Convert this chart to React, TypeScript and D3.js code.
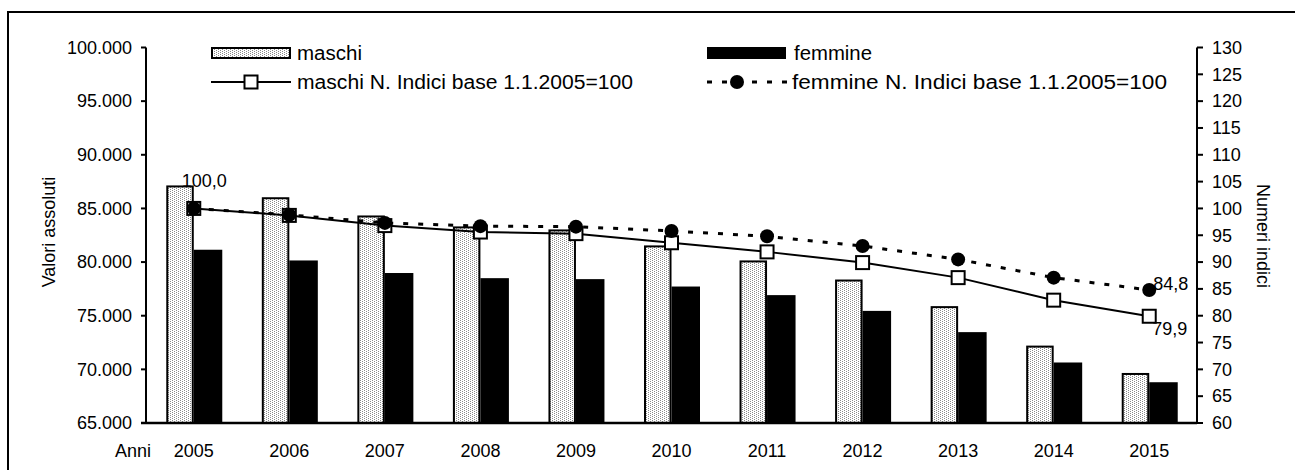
import React from 'react';
import * as d3 from 'd3';

const years = ['2005', '2006', '2007', '2008', '2009', '2010', '2011', '2012', '2013', '2014', '2015'];
const maschi = [87050, 85950, 84250, 83230, 82950, 81460, 80060, 78280, 75800, 72120, 69570];
const femmine = [81150, 80150, 78980, 78500, 78410, 77720, 76920, 75450, 73470, 70640, 68800];
const maschiIdx = [100, 98.7, 96.8, 95.6, 95.3, 93.6, 91.9, 89.9, 87.1, 82.9, 79.9];
const femmineIdx = [100, 98.8, 97.3, 96.7, 96.6, 95.8, 94.8, 93.0, 90.5, 87.1, 84.8];
const leftTicks = [65000, 70000, 75000, 80000, 85000, 90000, 95000, 100000];
const rightTicks = [60, 65, 70, 75, 80, 85, 90, 95, 100, 105, 110, 115, 120, 125, 130];
const legendLabels = ['maschi', 'femmine', 'maschi N. Indici base 1.1.2005=100', 'femmine N. Indici base 1.1.2005=100'];

const it = d3.formatLocale({ decimal: ',', thousands: '.', grouping: [3], currency: ['', '€'] });
const fmtThousands = it.format(',');
const fmtIdx = it.format('.1f');

const FONT = 'Liberation Sans, Arial, sans-serif';

export default function App() {
  const W = 1295, H = 470;
  const left = 146, right = 1197, top = 47.5, bottom = 423;
  const x = d3.scaleBand<string>().domain(years).range([left, right]).paddingInner(0).paddingOuter(0);
  const bw = x.bandwidth();
  const cx = (i: number) => (x(years[i]) as number) + bw / 2;
  const yL = d3.scaleLinear().domain([65000, 100000]).range([bottom, top]);
  const yR = d3.scaleLinear().domain([60, 130]).range([bottom, top]);
  const barW = 27.5;

  const line = d3.line<number>().x((_, i) => cx(i)).y((d) => yR(d));

  const sq = 13;
  const fs = 18;

  return (
    <svg width={W} height={H} style={{ position: 'absolute', left: 0, top: 0, background: '#fff' }} fontFamily={FONT}>
      <defs>
        <pattern id="dots" width="4" height="2" patternUnits="userSpaceOnUse">
          <rect width="4" height="2" fill="#fff" />
          <rect x="0" y="0" width="1" height="1" fill="#8a8a8a" />
          <rect x="2" y="1" width="1" height="1" fill="#8a8a8a" />
        </pattern>
      </defs>
      <rect x={0} y={0} width={W} height={H} fill="#fff" />
      <rect x={8} y={12} width={1310} height={500} fill="none" stroke="#000" strokeWidth={2} />

      {/* bars */}
      {years.map((yr, i) => (
        <g key={yr}>
          <rect x={cx(i) - barW + 1} y={yL(maschi[i])} width={barW - 2} height={bottom - yL(maschi[i])} fill="url(#dots)" stroke="#000" strokeWidth={2} />
          <rect x={cx(i)} y={yL(femmine[i])} width={barW + 1} height={bottom - yL(femmine[i])} fill="#000" />
        </g>
      ))}

      {/* left axis */}
      <line x1={left} x2={left} y1={top} y2={bottom} stroke="#000" strokeWidth={2} />
      {leftTicks.map((t) => (
        <g key={t}>
          <line x1={left - 5} x2={left} y1={yL(t)} y2={yL(t)} stroke="#000" strokeWidth={2} />
          <text x={132} y={yL(t)} dy="0.35em" textAnchor="end" fontSize={fs}>{fmtThousands(t)}</text>
        </g>
      ))}
      {/* right axis */}
      <line x1={right} x2={right} y1={top} y2={bottom} stroke="#000" strokeWidth={2} />
      {rightTicks.map((t) => (
        <g key={t}>
          <line x1={right} x2={right + 6} y1={yR(t)} y2={yR(t)} stroke="#000" strokeWidth={2} />
          <text x={1212} y={yR(t)} dy="0.35em" textAnchor="start" fontSize={fs}>{t}</text>
        </g>
      ))}
      {/* x axis */}
      <line x1={left - 5} x2={right} y1={bottom} y2={bottom} stroke="#000" strokeWidth={2.5} />
      {years.map((yr, i) => (
        <text key={yr} x={cx(i)} y={457} textAnchor="middle" fontSize={fs}>{yr}</text>
      ))}
      <text x={151} y={457} textAnchor="end" fontSize={fs}>Anni</text>

      {/* axis titles */}
      <text transform="translate(55,232) rotate(-90)" textAnchor="middle" fontSize={fs}>Valori assoluti</text>
      <text transform="translate(1257,236) rotate(90)" textAnchor="middle" fontSize={fs}>Numeri indici</text>

      {/* lines */}
      <path d={line(maschiIdx) || ''} fill="none" stroke="#000" strokeWidth={2} />
      <path d={line(femmineIdx) || ''} fill="none" stroke="#000" strokeWidth={3} strokeDasharray="5 10" />
      {maschiIdx.map((v, i) => (
        <rect key={'m' + i} x={cx(i) - sq / 2} y={yR(v) - sq / 2} width={sq} height={sq} fill="#fff" stroke="#000" strokeWidth={2} />
      ))}
      {femmineIdx.map((v, i) => (
        <circle key={'f' + i} cx={cx(i)} cy={yR(v)} r={7} fill="#000" />
      ))}

      {/* data labels */}
      <text x={cx(0) - 12} y={yR(maschiIdx[0]) - 21} fontSize={fs}>{fmtIdx(maschiIdx[0])}</text>
      <text x={cx(10) + 4} y={yR(femmineIdx[10])} fontSize={fs}>{fmtIdx(femmineIdx[10])}</text>
      <text x={cx(10) + 3} y={yR(maschiIdx[10]) + 19} fontSize={fs}>{fmtIdx(maschiIdx[10])}</text>

      {/* legend */}
      <rect x={212} y={48} width={78} height={10} fill="url(#dots)" stroke="#000" strokeWidth={2} />
      <text x={297} y={60} fontSize={20} textLength={65} lengthAdjust="spacingAndGlyphs">{legendLabels[0]}</text>
      <rect x={707} y={47} width={79} height={12} fill="#000" />
      <text x={794} y={60} fontSize={20} textLength={78} lengthAdjust="spacingAndGlyphs">{legendLabels[1]}</text>
      <line x1={211} x2={291} y1={82} y2={82} stroke="#000" strokeWidth={2} />
      <rect x={251 - sq / 2} y={82 - sq / 2} width={sq} height={sq} fill="#fff" stroke="#000" strokeWidth={2} />
      <text x={297} y={89} fontSize={20} textLength={336} lengthAdjust="spacingAndGlyphs">{legendLabels[2]}</text>
      <line x1={707} x2={789} y1={82} y2={82} stroke="#000" strokeWidth={3} strokeDasharray="5 10" />
      <circle cx={737} cy={82} r={7} fill="#000" />
      <text x={792} y={89} fontSize={20} textLength={375} lengthAdjust="spacingAndGlyphs">{legendLabels[3]}</text>
    </svg>
  );
}
